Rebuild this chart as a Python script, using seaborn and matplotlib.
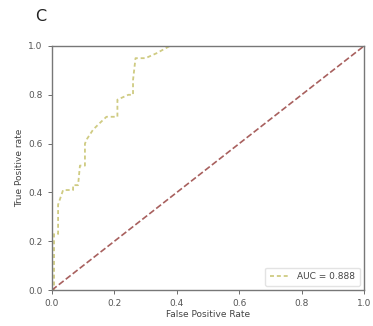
"""
ROC curve, panel C.
"""

import numpy as np
import pandas as pd
import seaborn as sns
from matplotlib import pyplot as plt

# ROC points (step curve).
fpr = [0.0, 0.007, 0.007, 0.02, 0.02, 0.036, 0.068, 0.068, 0.084, 0.09, 0.106,
       0.106, 0.113, 0.132, 0.15, 0.175, 0.21, 0.21, 0.245, 0.26, 0.26, 0.268,
       0.30, 0.335, 0.378, 1.0]
tpr = [0.0, 0.0, 0.23, 0.23, 0.35, 0.41, 0.41, 0.43, 0.43, 0.51, 0.51,
       0.60, 0.62, 0.657, 0.68, 0.71, 0.71, 0.78, 0.80, 0.80, 0.86, 0.95,
       0.95, 0.97, 1.0, 1.0]
auc_label = "AUC = 0.888"

diag = [0.0, 1.0]

df = pd.DataFrame({"fpr": fpr, "tpr": tpr})

sns.set_style("ticks")
plt.rcParams["font.family"] = ["DejaVu Sans"]

fig = plt.figure(figsize=(3.73, 3.26), dpi=100)
ax = fig.add_axes([0.139, 0.11, 0.837, 0.749])

sns.lineplot(data=df, x="fpr", y="tpr", ax=ax, color="#cfcb82",
             linewidth=1.3, label=auc_label, sort=False,
             estimator=None, dashes=False)
ax.lines[0].set_dashes([2.2, 1.6])
ax.plot(diag, diag, color="#a8605e", linestyle="--", linewidth=1.2)

ax.set_xlim(0, 1)
ax.set_ylim(0, 1)
ax.set_xticks(np.arange(0, 1.01, 0.2))
ax.set_yticks(np.arange(0, 1.01, 0.2))
ax.tick_params(labelsize=6.5, length=3, width=0.6, colors="#555555")
for s in ax.spines.values():
    s.set_color("#777777")
    s.set_linewidth(1.0)
ax.set_xlabel("False Positive Rate", fontsize=6.5, color="#444444", labelpad=1)
ax.set_ylabel("True Positive rate", fontsize=6.5, color="#444444", labelpad=3)

leg = ax.legend(loc="lower right", fontsize=6.5, frameon=True,
                handlelength=2.2, borderpad=0.5)
leg.get_lines()[0].set_dashes([2.2, 1.6])
leg.get_frame().set_edgecolor("#dddddd")
for t in leg.get_texts():
    t.set_color("#444444")

fig.text(0.095, 0.935, "C", fontsize=11.5, color="#222222")

plt.savefig("out.png", dpi=100)
